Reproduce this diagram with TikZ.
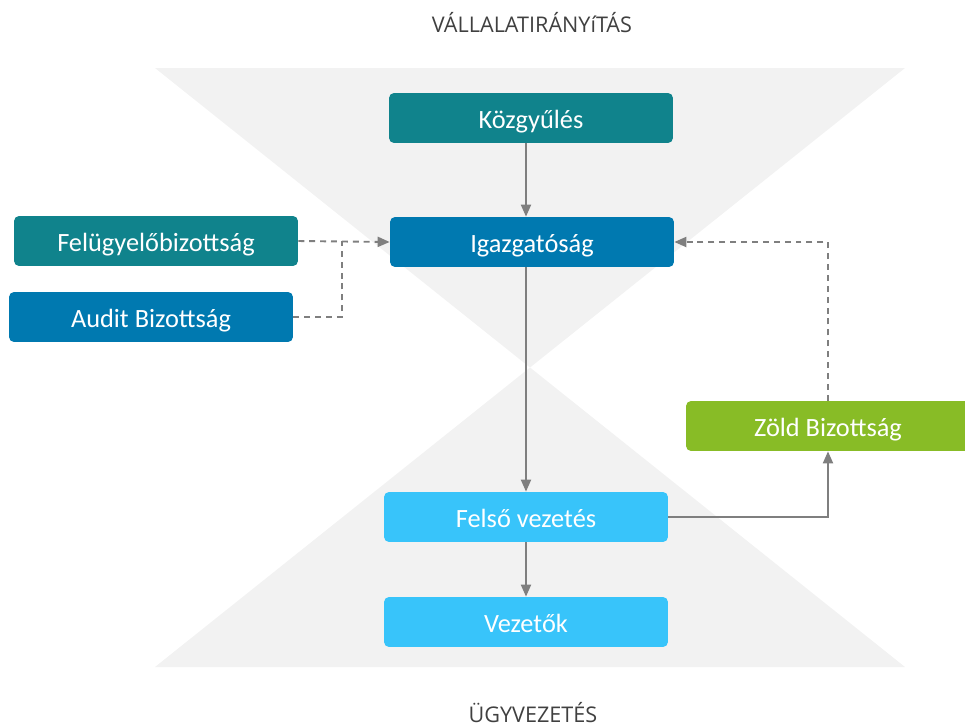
\documentclass[tikz,border=0pt]{standalone}
\usepackage{fontspec}
\setmainfont{Carlito}
\newfontfamily\titlefont{Open Sans}
\usetikzlibrary{arrows.meta}
\definecolor{hourglass}{HTML}{F2F2F2}
\definecolor{tealbox}{HTML}{10838C}
\definecolor{bluebox}{HTML}{0079B0}
\definecolor{lightbox}{HTML}{38C4FA}
\definecolor{greenbox}{HTML}{88BC26}
\definecolor{linkgray}{HTML}{7F7F7F}
\definecolor{titlegray}{HTML}{404040}

\begin{document}
\begin{tikzpicture}[x=0.02cm,y=-0.02cm,
    unit/.style={rounded corners=0.1cm, minimum width=5.68cm, minimum height=1cm,
        text=white, font=\fontsize{15}{18}\selectfont, inner sep=0pt,
        text height=12pt, text depth=0pt},
    link/.style={draw=linkgray, line width=1.1pt, -{Triangle[length=0.24cm,width=0.2cm]}},
    title/.style={text=titlegray, font=\titlefont\fontsize{12.3}{14}\selectfont,
        anchor=base, inner sep=0pt}]
    \path[use as bounding box] (0,0) rectangle (965,727);
    \fill[hourglass] (155,68) -- (905,68) -- (530,367.5) -- cycle;
    \fill[hourglass] (155,667) -- (905,667) -- (530,367.5) -- cycle;

    \node[title] (top) at (532,32) {VÁLLALATIRÁNYíTÁS};
    \node[title] (bottom) at (533,722) {ÜGYVEZETÉS};

    \node[unit, fill=tealbox] (kozgyules) at (531,118) {Közgyűlés};
    \node[unit, fill=bluebox] (igazgatosag) at (532,242) {Igazgatóság};
    \node[unit, fill=tealbox] (felugyelo) at (156,241) {Felügyelőbizottság};
    \node[unit, fill=bluebox] (audit) at (151,317) {Audit Bizottság};
    \node[unit, fill=greenbox] (zold) at (828,426) {Zöld Bizottság};
    \node[unit, fill=lightbox] (felso) at (526,517) {Felső vezetés};
    \node[unit, fill=lightbox] (vezetok) at (526,622) {Vezetők};
    \coordinate (join) at (342,241);

    \draw[link] (kozgyules.south -| felso) -- (igazgatosag.north -| felso);
    \draw[link] (igazgatosag.south -| felso) -- (felso.north);
    \draw[link] (felso) -- (vezetok);
    \draw[link] (felso.east) -| (zold.south);
    \draw[link, dashed, dash pattern=on 3.4pt off 2.8pt] (zold.north) |- (igazgatosag.east);
    \draw[link, dashed, dash pattern=on 3.4pt off 2.8pt] (felugyelo.east) -- (igazgatosag.west);
    \draw[draw=linkgray, line width=1.1pt, dash pattern=on 3.4pt off 2.8pt] (audit.east) -| (join);
\end{tikzpicture}
\end{document}
